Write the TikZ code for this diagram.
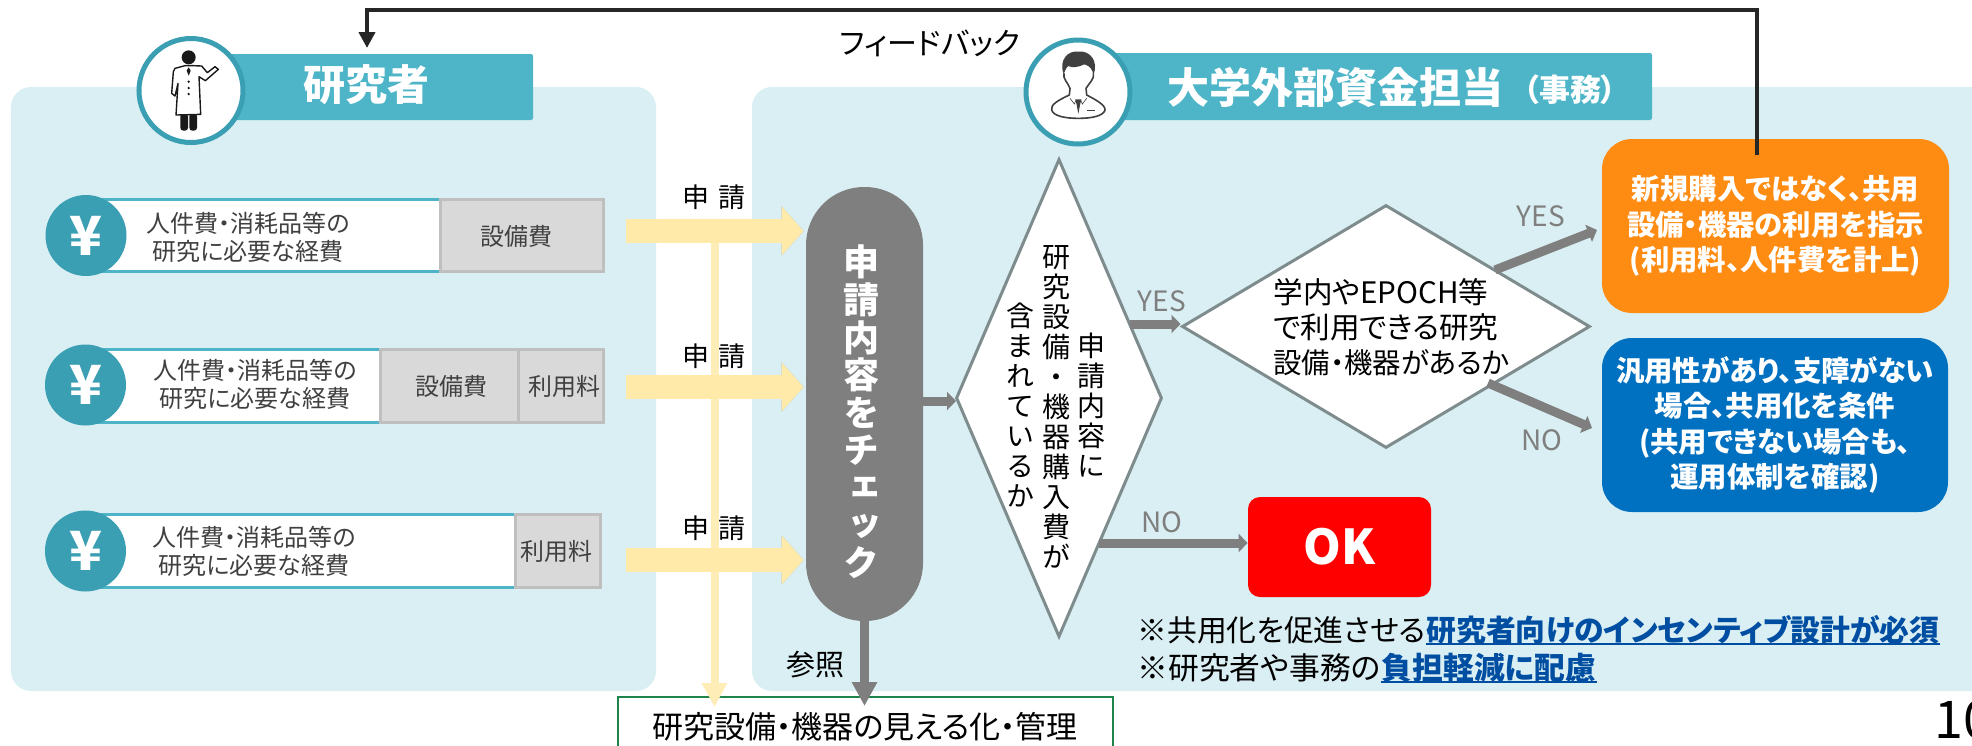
\documentclass[tikz,border=0pt]{standalone}
\usepackage{fontspec}
\setmainfont[RawFeature=+palt]{Noto Sans CJK JP}
\newfontfamily\cjkv[RawFeature=+vert]{Noto Sans CJK JP}
\usetikzlibrary{arrows.meta,shapes.geometric}
\definecolor{panelbg}{HTML}{DAEFF3}
\definecolor{headbg}{HTML}{4DB5C7}
\definecolor{ringcol}{HTML}{3B9FB3}
\definecolor{rowtxt}{HTML}{404040}
\definecolor{grayfill}{HTML}{D9D9D9}
\definecolor{graybord}{HTML}{BFBFBF}
\definecolor{yelcol}{HTML}{FFEAAA}
\definecolor{pillcol}{HTML}{7F7F7F}
\definecolor{diabord}{HTML}{7F8C8D}
\definecolor{oracol}{HTML}{FF8C12}
\definecolor{blucol}{HTML}{0070C0}
\definecolor{linkcol}{HTML}{004EA2}
\definecolor{boxgreen}{HTML}{1E8449}
\def\u{0.5pt} %one pixel of the reference
\tikzset{
    panel/.style={fill=panelbg,rounded corners=10pt},
    headbar/.style={fill=headbg,rounded corners=1pt,inner sep=0pt},
    ring/.style={circle,draw=ringcol,fill=white,line width=2.5pt,inner sep=0pt,minimum size=104*\u},
    headtxt/.style={text=white,font=\bfseries\fontsize{21}{21}\selectfont,inner sep=0pt},
    yen/.style={circle,fill=ringcol,text=white,font=\bfseries\fontsize{27}{27}\selectfont,inner sep=0pt,minimum size=81*\u},
    rowwhite/.style={draw=headbg,fill=white,line width=1.5pt,inner sep=0pt},
    rowgray/.style={draw=graybord,fill=grayfill,line width=1.5pt,inner sep=0pt},
    rowtext/.style={text=rowtxt,align=center,inner sep=0pt,font=\fontsize{12}{14}\selectfont},
    shinsei/.style={inner sep=0pt,font=\fontsize{13.5}{13.5}\selectfont},
    yelarrow/.style={draw=yelcol,line width=12pt,-{Triangle[length=11pt,width=24pt]}},
    yelshadow/.style={draw=black,opacity=0.05,line width=12pt,-{Triangle[length=11pt,width=24pt]}},
    yelline/.style={draw=yelcol!85!white,line width=4pt,-{Triangle[length=12pt,width=12pt]}},
    grayarrow/.style={draw=pillcol,line width=4.5pt,-{Triangle[length=4.5pt,width=9pt]}},
    graylong/.style={draw=pillcol,line width=4.5pt,-{Triangle[length=12pt,width=12pt]}},
    dia/.style={diamond,draw=diabord,fill=white,line width=1.5pt,inner sep=0pt},
    vtext/.style={align=center,inner sep=0pt,font=\cjkv\fontsize{14}{15}\selectfont},
    yesno/.style={text=pillcol,inner sep=0pt,font=\fontsize{14}{14}\selectfont},
    result/.style={text=white,rounded corners=15pt,inner sep=0pt,align=center,font=\bfseries\fontsize{14.2}{17.8}\selectfont},
}
\begin{document}
\begin{tikzpicture}[x=0.5pt,y=-0.5pt]
    \useasboundingbox (0,0) rectangle (1972,745);
    \clip (0,0) rectangle (1972,745);

    %PANELS
    \fill[panel] (11,87) rectangle (656,691);
    \fill[panel] (752,87) rectangle (2020,691);

    %HEADERS
    \node[inner sep=0pt,font=\fontsize{15}{15}\selectfont] (fbtext) at (930,43) {フィードバック};
    \node[headbar,minimum width=308*\u,minimum height=66*\u] (reshead) at (379,87) {};
    \node[headbar,minimum width=552*\u,minimum height=67*\u] (offhead) at (1376,86.5) {};
    \node[ring] (resring) at (191,90.5) {};
    \node[ring] (offring) at (1078,92) {};
    \node[headtxt] (restxt) at (366,85) {研究者};
    \node[headtxt] (offtxt) at (1335,87) {大学外部資金担当};
    \node[headtxt,font=\bfseries\fontsize{15.5}{15.5}\selectfont] (offsub) at (1570,90) {（事務）};

    %doctor
    \begin{scope}[shift={(130,30)},x=0.1667pt,y=-0.1667pt]
        \fill[black!90] (176,82) circle (21);
        \fill[black!90,rounded corners=1.5pt] (151,250) rectangle (174,302);
        \fill[black!90,rounded corners=1.5pt] (178,250) rectangle (201,302);
        \draw[black!90,fill=white,line width=0.7pt,line join=round] (165,107) -- (135,115) -- (130,125) -- (125,190) -- (135,198) -- (144,160) -- (138,255) -- (212,253) -- (207,140) -- (226,152) -- (265,118) -- (255,110) -- (232,128) -- (215,108) -- (190,107) -- cycle;
        \fill[black!90] (176,112) -- (170,122) -- (176,137) -- (182,122) -- cycle;
        \foreach \y in {155,174,192}{\fill[black!90] (176,\y) circle (4);}
    \end{scope}

    %office staff
    \begin{scope}[shift={(1015,30)},x=0.1667pt,y=-0.1667pt]
        \draw[black!75,fill=white,line width=0.8pt,line join=round] (147,130) .. controls (142,145) and (160,160) .. (165,175) -- (163,195) .. controls (130,210) and (105,225) .. (110,240) .. controls (115,258) and (150,265) .. (190,265) .. controls (230,265) and (265,258) .. (270,240) .. controls (272,225) and (240,208) .. (215,195) -- (213,175) .. controls (222,160) and (240,145) .. (235,130);
        \fill[black!75] (146,132) .. controls (130,90) and (160,60) .. (190,65) .. controls (225,60) and (252,95) .. (235,135) .. controls (232,118) and (226,108) .. (208,103) .. controls (190,112) and (170,114) .. (160,108) .. controls (152,113) and (150,125) .. (146,132) -- cycle;
        \fill[black!75] (181,208) -- (199,208) -- (195,225) -- (190,252) -- (185,225) -- cycle;
        \draw[black!75,line width=0.3pt] (165,205) -- (178,222) -- (183,210);
        \draw[black!75,line width=0.3pt] (215,205) -- (202,222) -- (197,210);
        \draw[black!75,line width=0.8pt] (215,242) -- (240,242);
    \end{scope}

    %VERTICAL LINES
    \coordinate (listart) at (714.5,231);
    \coordinate (listend) at (714.5,707);
    \coordinate (mieruin) at (864.5,706);
    \node[draw=boxgreen,fill=white,line width=1pt,inner sep=0pt,minimum width=495*\u,minimum height=100*\u,anchor=north] (mieru) at (865,696) {};
    \node[inner sep=0pt,font=\fontsize{15.5}{15.5}\selectfont] (mierutxt) at (865,727) {研究設備・機器の見える化・管理};
    \draw[yelline] (listart) -- (listend);

    %CHECK PILL
    \node[fill=pillcol,rounded corners=29pt,inner sep=0pt,minimum width=117*\u,minimum height=434*\u] (chkpill) at (864.5,404) {};
    \node[align=center,inner sep=0pt,text=white,font=\cjkv\bfseries\fontsize{18}{18.8}\selectfont] (chktxt) at (861,412) {申\\請\\内\\容\\を\\チ\\ェ\\ッ\\ク};
    \draw[graylong] (chkpill.south) -- (mieruin);
    \node[inner sep=0pt,font=\fontsize{14.5}{14.5}\selectfont] (sansho) at (815,665) {参照};

    %ROWS
    \foreach \i/\r/\t in {1/231/197,2/387/356,3/560/528}{
        \coordinate (yel\i) at (626,\r);
        \foreach \d in {1,...,5}{
            \draw[yelshadow,shift={(-\d,1.3*\d)}] (yel\i) -- ([xshift=-1pt]chkpill.west |- yel\i);
        }
        \draw[yelarrow] (yel\i) -- ([xshift=-1pt]chkpill.west |- yel\i);
        \node[shinsei] (shin\i) at (714,\t) {申\hspace{5pt}請};
    }
    %row 1
    \node[rowwhite,minimum width=354*\u,minimum height=72*\u] (whitea) at (263,235) {};
    \node[rowgray,minimum width=163*\u,minimum height=72*\u] (graya) at (521.5,235) {};
    \node[rowtext] (txta) at (248,237) {人件費・消耗品等の\\研究に必要な経費};
    \node[rowtext] (sbia) at (516,236) {設備費};
    \node[yen] (yena) at (86,235.5) {¥};
    %row 2
    \node[rowwhite,minimum width=294*\u,minimum height=73*\u] (whiteb) at (233,385.5) {};
    \node[rowgray,minimum width=138*\u,minimum height=73*\u] (grayb) at (449,385.5) {};
    \node[rowgray,minimum width=85*\u,minimum height=73*\u] (grayc) at (560.5,385.5) {};
    \node[rowtext] (txtb) at (255,384) {人件費・消耗品等の\\研究に必要な経費};
    \node[rowtext] (sbib) at (451,386) {設備費};
    \node[rowtext] (ryob) at (564,386) {利用料};
    \node[yen] (yenb) at (85.5,385) {¥};
    %row 3
    \node[rowwhite,minimum width=429*\u,minimum height=73*\u] (whited) at (300.5,550.5) {};
    \node[rowgray,minimum width=85*\u,minimum height=73*\u] (grayd) at (557.5,550.5) {};
    \node[rowtext] (txtd) at (254,551) {人件費・消耗品等の\\研究に必要な経費};
    \node[rowtext] (ryod) at (556,551) {利用料};
    \node[yen] (yend) at (85.5,551) {¥};

    %DIAMONDS
    \node[dia,minimum width=206*\u,minimum height=478*\u] (chkdia) at (1059,398) {};
    \node[dia,minimum width=408*\u,minimum height=243*\u] (resdia) at (1386,326.5) {};
    \node[vtext] (cola) at (1091,405) {申\\請\\内\\容\\に};
    \node[vtext] (colb) at (1056,407) {研\\究\\設\\備\\・\\機\\器\\購\\入\\費\\が};
    \node[vtext] (colc) at (1020,405) {含\\ま\\れ\\て\\い\\る\\か};
    \node[anchor=west,align=left,inner sep=0pt,font=\fontsize{14.8}{17.5}\selectfont] (restxt2) at (1273,327) {学内やEPOCH等\\で利用できる研究\\\fontsize{14.2}{17.5}\selectfont 設備・機器があるか};

    %RESULT BOXES
    \node[result,fill=oracol,minimum width=347*\u,minimum height=174*\u] (orabox) at (1775.5,226) {新規購入ではなく、共用\\設備・機器の利用を指示\\(利用料、人件費を計上)};
    \node[result,fill=blucol,minimum width=346*\u,minimum height=174*\u] (blubox) at (1775,425) {汎用性があり、支障がない\\場合、共用化を条件\\(共用できない場合も、\\運用体制を確認)};
    \node[result,fill=red,rounded corners=6pt,minimum width=183*\u,minimum height=100*\u,font=\bfseries\fontsize{24}{24}\selectfont] (okbox) at (1339.5,547) {OK};

    %FEEDBACK
    \coordinate (fbstart) at (1757,155);
    \coordinate (fbend) at (367,48);
    \draw[draw=black!85,line width=2pt,-{Triangle[length=8pt,width=8pt]}] (fbstart) -- (1757,10) -- (367,10) -- (fbend);

    %ARROWS
    \coordinate (pillout) at (956,401);
    \coordinate (yesa) at (1162,324);
    \coordinate (yesb) at (1495,270);
    \coordinate (yesbend) at (1597,230);
    \coordinate (nob) at (1488,383);
    \coordinate (nobend) at (1592,428);
    \coordinate (noa) at (1099,543);
    \draw[grayarrow] (chkpill.east |- pillout) -- (pillout);
    \draw[grayarrow] (yesa -| chkdia.east) ++(-34,0) -- (resdia.west |- yesa);
    \draw[grayarrow] (yesb) -- (yesbend);
    \draw[grayarrow] (nob) -- (nobend);
    \draw[grayarrow] (noa) -- (okbox.west |- noa);
    \node[yesno] (yeslaba) at (1162,301) {YES};
    \node[yesno] (yeslabb) at (1541,216) {YES};
    \node[yesno] (nolabb) at (1542,440) {NO};
    \node[yesno] (nolaba) at (1162,522) {NO};

    %NOTES
    \node[anchor=west,inner sep=0pt,font=\fontsize{14.9}{14.9}\selectfont] (notea) at (1137,630) {※共用化を促進させる};
    \node[anchor=west,inner sep=0pt,text=linkcol,font=\bfseries\fontsize{14.9}{14.9}\selectfont] (linka) at (notea.east) {研究者向けのインセンティブ設計が必須};
    \draw[linkcol,line width=1pt] (linka.west |- 0,644) -- (linka.east |- 0,644);
    \node[anchor=west,inner sep=0pt,font=\fontsize{15.4}{15.4}\selectfont] (noteb) at (1137,668) {※研究者や事務の};
    \node[anchor=west,inner sep=0pt,text=linkcol,font=\bfseries\fontsize{15.4}{15.4}\selectfont] (linkb) at (noteb.east) {負担軽減に配慮};
    \draw[linkcol,line width=1pt] (linkb.west |- 0,682) -- (linkb.east |- 0,682);

    %PAGE NUMBER
    \node[anchor=west,inner sep=0pt,font=\fontsize{26}{26}\selectfont] (pageno) at (1934,720) {10};
\end{tikzpicture}
\end{document}
